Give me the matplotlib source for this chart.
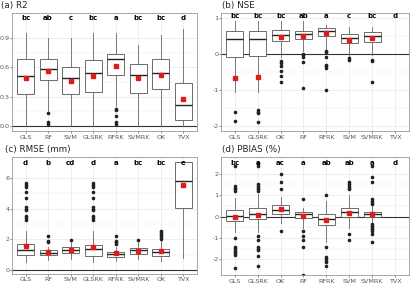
import numpy as np
import matplotlib.pyplot as plt

# ---- data ----
cats_a = ['GLS', 'RF', 'SVM', 'GLSRK', 'RFRK', 'SVMRK', 'OK', 'TVX']
letters_a = ['bc', 'ab', 'c', 'bc', 'a', 'bc', 'bc', 'd']
r2_q1 = [0.33, 0.47, 0.325, 0.345, 0.52, 0.34, 0.376, 0.062]
r2_med = [0.513, 0.582, 0.486, 0.544, 0.684, 0.52, 0.544, 0.216]
r2_q3 = [0.684, 0.691, 0.609, 0.677, 0.739, 0.633, 0.684, 0.441]
r2_lo = [0.0, 0.15, 0.0, 0.0, 0.2, 0.0, 0.0, 0.0]
r2_hi = [0.95, 0.907, 0.907, 0.95, 0.95, 0.83, 0.934, 0.996]
r2_mean = [0.496, 0.565, 0.462, 0.51, 0.616, 0.486, 0.52, 0.277]
r2_out = [[], [0.13, 0.04, 0.02], [], [], [0.17, 0.16, 0.10, 0.04, 0.02],
          [], [], []]

cats_b = ['GLS', 'GLSRK', 'OK', 'RF', 'RFRK', 'SVM', 'SVMRK', 'TVX']
letters_b = ['bc', 'bc', 'bc', 'ab', 'a', 'c', 'bc', 'd']
nse_q1 = [-0.09, -0.056, 0.353, 0.41, 0.49, 0.3, 0.33, None]
nse_med = [0.428, 0.428, 0.52, 0.56, 0.65, 0.43, 0.5, None]
nse_q3 = [0.651, 0.651, 0.66, 0.64, 0.735, 0.55, 0.6, None]
nse_lo = [-1.05, -1.05, -0.1, 0.07, 0.12, -0.07, -0.03, None]
nse_hi = [0.93, 0.93, 0.93, 0.93, 0.81, 0.76, 0.76, None]
nse_mean = [-0.68, -0.63, 0.465, 0.5, 0.57, 0.39, 0.44, None]
nse_out = [[-1.63, -1.86], [-1.56, -1.61, -1.66, -1.89],
           [-0.21, -0.24, -0.35, -0.47, -0.62, -0.79],
           [0.01, -0.03, -0.09, -0.22, -0.94],
           [0.08, 0.04, -0.09, -0.31, -0.35, -0.4, -1.0],
           [-0.12, -0.17], [-0.17, -0.21, -0.79], []]

cats_c = ['GLS', 'RF', 'SVM', 'GLSRK', 'RFRK', 'SVMRK', 'OK', 'TVX']
letters_c = ['d', 'b', 'cd', 'd', 'a', 'bc', 'bc', 'e']
rmse_q1 = [0.95, 0.97, 1.13, 0.91, 0.82, 1.04, 0.93, 4.05]
rmse_med = [1.32, 1.1, 1.3, 1.37, 1.04, 1.3, 1.17, 5.83]
rmse_q3 = [1.69, 1.32, 1.47, 1.65, 1.15, 1.41, 1.37, 7.06]
rmse_lo = [0.5, 0.65, 0.72, 0.5, 0.56, 0.72, 0.56, 0.78]
rmse_hi = [2.56, 1.52, 1.8, 2.56, 1.47, 1.8, 1.9, 7.06]
rmse_mean = [1.56, 1.19, 1.3, 1.52, 1.08, 1.24, 1.21, 5.57]
rmse_out = [[5.68, 5.55, 5.44, 5.09, 4.68, 4.12, 4.0, 3.9, 3.53, 3.42, 3.27],
            [2.19, 1.9, 1.82], [1.95],
            [5.68, 5.55, 5.44, 5.09, 4.68, 4.12, 4.0, 3.9, 3.53, 3.42, 3.27],
            [2.19, 1.9, 1.8, 1.69], [1.95],
            [2.56, 2.45, 2.35, 2.25, 2.12, 2.0], []]

cats_d = ['GLS', 'GLSRK', 'OK', 'RF', 'RFRK', 'SVM', 'SVMRK', 'TVX']
letters_d = ['bc', 'a', 'ac', 'a', 'ab', 'ab', 'a', 'd']
pb_q1 = [-0.2, -0.09, 0.11, -0.08, -0.4, 0.0, 0.0, None]
pb_med = [0.015, 0.12, 0.29, 0.11, -0.11, 0.22, 0.12, None]
pb_q3 = [0.29, 0.39, 0.53, 0.22, 0.12, 0.39, 0.22, None]
pb_lo = [-0.74, -0.74, -0.28, -0.51, -1.2, -0.51, -0.28, None]
pb_hi = [0.88, 1.04, 0.9, 0.4, 0.73, 1.0, 0.5, None]
pb_mean = [0.0, 0.08, 0.34, 0.03, -0.17, 0.19, 0.14, None]
pb_out = [[2.36, 1.43, 1.35, 1.27, 1.19, -0.99, -1.41, -1.47, -1.57, -1.64,
           -1.72, -1.8, -2.4],
          [2.51, 2.36, 1.53, 1.43, 1.35, 1.27, 1.19, -0.9, -1.08, -1.41,
           -1.49, -1.57, -1.83, -2.3],
          [2.0, 1.6, 1.3, -0.67],
          [0.8, -0.67, -0.9, -1.08, -1.41, -2.71],
          [1.0, -1.41, -1.9, -1.98, -2.05, -2.13, -2.3],
          [1.63, 1.53, 1.43, 1.35, 1.27, -0.79, -1.1],
          [2.36, 1.84, 1.6, 0.8, 0.72, 0.65, 0.57, -0.36, -0.44, -0.51,
           -0.59, -0.67, -0.82, -1.18],
          []]

GRID = '#EBEBEB'
TXT = '#5A5A5A'


def draw_panel(ax, title, cats, q1, med, q3, lo, hi, means, outs, letters,
               ylim, yticks, yticklabels, letter_y, title_x):
    stats = []
    pos = []
    for i in range(len(cats)):
        if med[i] is None:
            continue
        stats.append(dict(med=med[i], q1=q1[i], q3=q3[i], whislo=lo[i],
                          whishi=hi[i], fliers=outs[i]))
        pos.append(i + 1)

    ax.bxp(stats, positions=pos, widths=0.75, showcaps=False,
           patch_artist=True, manage_ticks=False,
           boxprops=dict(facecolor='white', edgecolor='#555555', lw=0.6),
           whiskerprops=dict(color='#666666', lw=0.6),
           medianprops=dict(color='#222222', lw=1.0),
           flierprops=dict(marker='o', markersize=1.6,
                           markerfacecolor='#222222',
                           markeredgecolor='#222222'),
           zorder=2)
    mx = [i + 1 for i in range(len(cats)) if means[i] is not None]
    my = [m for m in means if m is not None]
    ax.plot(mx, my, 's', color='#E31A1C', markersize=2.6, zorder=4)
    for i, lt in enumerate(letters):
        ax.text(i + 1, letter_y, lt, ha='center', va='center',
                fontsize=5, fontweight='bold', color='black', zorder=5)

    ax.set_xlim(0.4, len(cats) + 0.6)
    ax.set_ylim(*ylim)
    ax.set_yticks(yticks)
    ax.set_yticklabels(yticklabels)
    minor = [(a + b) / 2 for a, b in zip(yticks[:-1], yticks[1:])]
    ax.set_yticks(minor, minor=True)
    ax.set_xticks(np.arange(1, len(cats) + 1))
    ax.set_xticklabels(cats)
    ax.grid(which='major', color=GRID, lw=0.6, zorder=0)
    ax.grid(which='minor', axis='y', color=GRID, lw=0.3, zorder=0)
    ax.set_axisbelow(True)
    ax.axhline(0, color='#333333', lw=0.8, zorder=1)

    for s in ax.spines.values():
        s.set_color('#999999')
        s.set_linewidth(0.6)
    ax.tick_params(axis='both', which='major', labelsize=4.6, colors=TXT,
                   length=1.5, width=0.5, pad=1)
    ax.tick_params(axis='y', which='major', pad=0.5, length=1.2)
    ax.tick_params(axis='both', which='minor', length=0)
    ax.figure.text(title_x, ax.get_position().y1 + 0.012, title,
                   fontsize=6.3, color='#222222', va='bottom', ha='left')


fig = plt.figure(figsize=(4.13, 2.83), dpi=100)

ax_a = fig.add_axes([0.029, 0.537, 0.448, 0.417])
ax_b = fig.add_axes([0.535, 0.537, 0.455, 0.417])
ax_c = fig.add_axes([0.029, 0.032, 0.448, 0.413])
ax_d = fig.add_axes([0.535, 0.028, 0.455, 0.417])

draw_panel(ax_a, '(a) R2', cats_a, r2_q1, r2_med, r2_q3, r2_lo, r2_hi,
           r2_mean, r2_out, letters_a, (-0.055, 1.16),
           [0.0, 0.3, 0.6, 0.9], ['0.0', '0.3', '0.6', '0.9'], 1.105, 0.003)
draw_panel(ax_b, '(b) NSE', cats_b, nse_q1, nse_med, nse_q3, nse_lo, nse_hi,
           nse_mean, nse_out, letters_b, (-2.15, 1.14),
           [-2, -1, 0, 1], ['-2', '-1', '0', '1'], 1.05, 0.537)
draw_panel(ax_c, '(c) RMSE (mm)', cats_c, rmse_q1, rmse_med, rmse_q3,
           rmse_lo, rmse_hi, rmse_mean, rmse_out, letters_c, (-0.26, 7.37),
           [0, 2, 4, 6], ['0', '2', '4', '6'], 6.96, 0.012)
draw_panel(ax_d, '(d) PBIAS (%)', cats_d, pb_q1, pb_med, pb_q3, pb_lo,
           pb_hi, pb_mean, pb_out, letters_d, (-2.73, 2.78),
           [-2, -1, 0, 1, 2], ['-2', '-1', '0', '1', '2'], 2.48, 0.537)

fig.savefig('out.png', dpi=100)
plt.close(fig)
